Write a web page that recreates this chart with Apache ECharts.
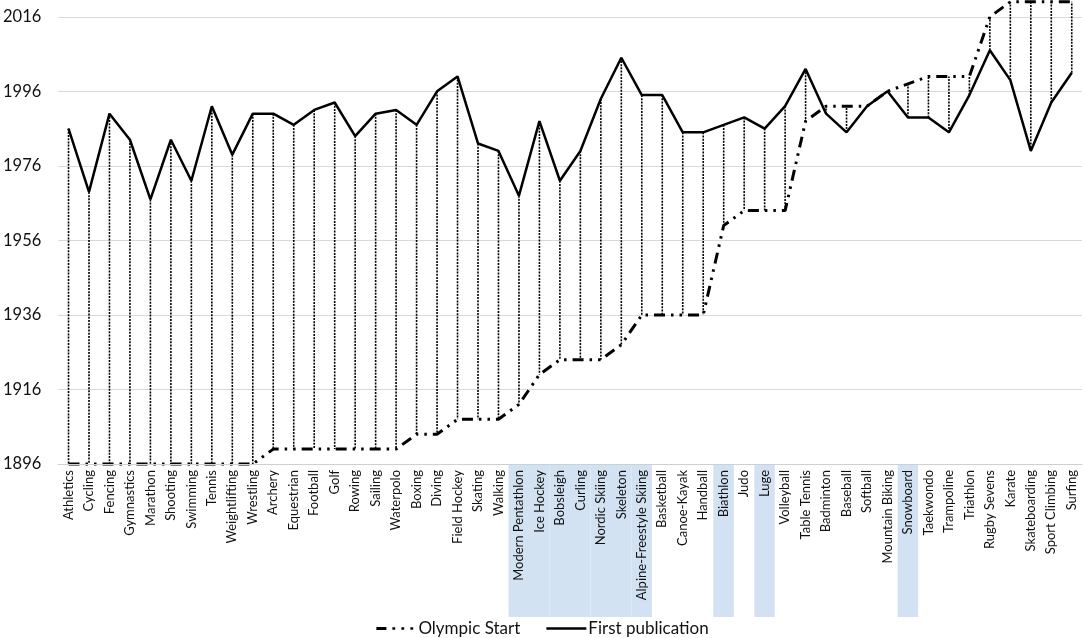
<!DOCTYPE html>
<html>
<head>
<meta charset="utf-8">
<script src="https://cdn.jsdelivr.net/npm/echarts@6/dist/echarts.min.js"></script>
<style>html,body{margin:0;padding:0;background:#fff}#c{width:1085px;height:638px}</style>
</head>
<body>
<div id="c"></div>
<script>
const categories = ["Athletics","Cycling","Fencing","Gymnastics","Marathon","Shooting","Swimming","Tennis","Weightlifting","Wrestling","Archery","Equestrian","Football","Golf","Rowing","Sailing","Waterpolo","Boxing","Diving","Field Hockey","Skating","Walking","Modern Pentathlon","Ice Hockey","Bobsleigh","Curling","Nordic Skiing","Skeleton","Alpine-Freestyle Skiing","Basketball","Canoe-Kayak","Handball","Biathlon","Judo","Luge","Volleyball","Table Tennis","Badminton","Baseball","Softball","Mountain Biking","Snowboard","Taekwondo","Trampoline","Triathlon","Rugby Sevens","Karate","Skateboarding","Sport Climbing","Surfing"];
const olympicStart = [1896,1896,1896,1896,1896,1896,1896,1896,1896,1896,1900,1900,1900,1900,1900,1900,1900,1904,1904,1908,1908,1908,1912,1920,1924,1924,1924,1928,1936,1936,1936,1936,1960,1964,1964,1964,1988,1992,1992,1992,1996,1998,2000,2000,2000,2016,2020,2020,2020,2020];
const firstPublication = [1986,1969,1990,1983,1967,1983,1972,1992,1979,1990,1990,1987,1991,1993,1984,1990,1991,1987,1996,2000,1982,1980,1968,1988,1972,1980,1994,2005,1995,1995,1985,1985,1987,1989,1986,1992,2002,1990,1985,1992,1996,1989,1989,1985,1995,2007,1999,1980,1993,2001];
const winterSports = ["Modern Pentathlon","Ice Hockey","Bobsleigh","Curling","Nordic Skiing","Skeleton","Alpine-Freestyle Skiing","Biathlon","Luge","Snowboard"];
const yTicks = [1896,1916,1936,1956,1976,1996,2016];

const FONT = 'Lato, "Open Sans", sans-serif';
const dropData = categories.map((c,i)=>[i, firstPublication[i], olympicStart[i]]);
const shadeData = categories.map(c => winterSports.includes(c) ? 1 : '-');

const chart = echarts.init(document.getElementById('c'), null, {renderer:'canvas'});
chart.setOption({
  animation:false,
  backgroundColor:'#fff',
  textStyle:{fontFamily:FONT},
  grid:[
    {left:58, right:3, top:0, bottom:174},
    {left:58, right:3, top:464, height:153}
  ],
  xAxis:[
    {type:'category', gridIndex:0, data:categories, boundaryGap:true, z:10,
     axisLine:{show:true, lineStyle:{color:'#d0d0d0', width:1}},
     axisTick:{show:false},
     axisLabel:{rotate:90, interval:0, margin:6, fontSize:13, color:'#111', fontFamily:FONT}},
    {type:'category', gridIndex:1, data:categories, boundaryGap:true, show:false}
  ],
  yAxis:[
    {type:'value', gridIndex:0, min:1896, max:2020.5, interval:20,
     axisLine:{show:false}, axisTick:{show:false},
     axisLabel:{showMaxLabel:false, fontSize:16.5, color:'#111', margin:17, fontFamily:FONT,
       formatter:v => yTicks.includes(v) ? String(v) : ''},
     splitLine:{show:true, showMaxLine:false, lineStyle:{color:'#d9d9d9', width:1.2}}},
    {type:'value', gridIndex:1, min:0, max:1, show:false}
  ],
  legend:{
    data:[
      {name:'Olympic Start', icon:'path://M0,0h10v3H0z M16,0.3h2.8v2.4H16z M25,0.3h2.8v2.4H25z M34,0.3h2.8v2.4H34z M40,0v3z'},
      {name:'First publication', icon:'path://M0,0.2h40v2.6H0z M0,0v3z'}
    ],
    left:'center', top:615, itemWidth:40, itemHeight:3, itemGap:26,
    textStyle:{fontSize:17, color:'#111', fontFamily:FONT, padding:[0,0,0,-3]}
  },
  series:[
    {type:'bar', xAxisIndex:1, yAxisIndex:1, data:shadeData, barWidth:'100%', silent:true,
     itemStyle:{color:'#d2e2f3'}, z:1},
    {type:'custom', xAxisIndex:0, yAxisIndex:0, data:dropData, z:2, silent:true,
     encode:{x:0, y:[1,2]},
     renderItem:(params, api)=>{
       const a = api.coord([api.value(0), api.value(1)]);
       const b = api.coord([api.value(0), api.value(2)]);
       return {type:'line', shape:{x1:a[0], y1:a[1], x2:b[0], y2:b[1]},
         style:{stroke:'#000', lineWidth:1.6, lineDash:[2,1.2]}};
     }},
    {name:'Olympic Start', type:'line', data:olympicStart, symbol:'none', clip:false, z:4,
     lineStyle:{color:'#000', width:3, type:[11,6,2.5,6,2.5,6], cap:'butt'}, itemStyle:{color:'#000'}},
    {name:'First publication', type:'line', data:firstPublication, symbol:'none', clip:false, z:5,
     lineStyle:{color:'#000', width:2.5}, itemStyle:{color:'#000'}}
  ]
});
</script>
</body>
</html>
